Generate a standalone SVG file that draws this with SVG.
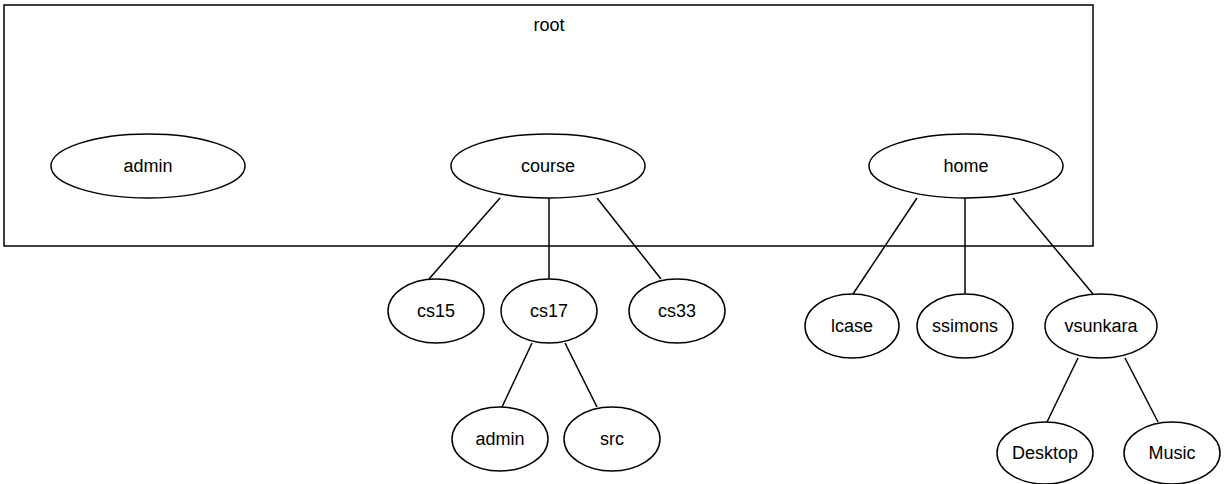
<svg xmlns="http://www.w3.org/2000/svg" width="1225" height="484" viewBox="0 0 1225 484">
  <style>
    .box { fill: #ffffff; stroke: #000000; stroke-width: 1.5; }
    .node ellipse { fill: #ffffff; stroke: #000000; stroke-width: 1.5; }
    .node text, .label { font-family: "Liberation Sans", Arial, sans-serif; font-size: 18px; fill: #000000; text-anchor: middle; dominant-baseline: central; }
    .edges line { stroke: #000000; stroke-width: 1.5; }
  </style>
  <rect width="1225" height="484" fill="#ffffff"/>

  <!-- container for the top-level directory -->
  <g id="root">
    <rect class="box" x="4" y="5" width="1089" height="241"/>
    <text class="label" x="549" y="25">root</text>
  </g>

  <!-- connectors -->
  <g class="edges" id="edges">
    <line x1="500" y1="198" x2="429" y2="279"/>
    <line x1="549" y1="198" x2="549" y2="279"/>
    <line x1="597" y1="198" x2="661" y2="279"/>
    <line x1="532" y1="343" x2="502" y2="407"/>
    <line x1="565" y1="343" x2="597" y2="407"/>
    <line x1="917" y1="198" x2="853" y2="294"/>
    <line x1="965" y1="198" x2="965" y2="294"/>
    <line x1="1013" y1="198" x2="1093" y2="294"/>
    <line x1="1078" y1="358" x2="1047" y2="422"/>
    <line x1="1125" y1="358" x2="1158" y2="422"/>
  </g>

  <g class="node" id="admin">
    <ellipse cx="148" cy="166" rx="97" ry="32"/>
    <text x="148" y="166">admin</text>
  </g>
  <g class="node" id="course">
    <ellipse cx="548" cy="166" rx="97" ry="32"/>
    <text x="548" y="166">course</text>
  </g>
  <g class="node" id="home">
    <ellipse cx="966" cy="166" rx="97" ry="32"/>
    <text x="966" y="166">home</text>
  </g>

  <g class="node" id="cs15">
    <ellipse cx="436" cy="311" rx="48" ry="32"/>
    <text x="436" y="311">cs15</text>
  </g>
  <g class="node" id="cs17">
    <ellipse cx="549" cy="311" rx="48" ry="32"/>
    <text x="549" y="311">cs17</text>
  </g>
  <g class="node" id="cs33">
    <ellipse cx="677" cy="311" rx="48" ry="32"/>
    <text x="677" y="311">cs33</text>
  </g>
  <g class="node" id="cs17-admin">
    <ellipse cx="500" cy="439" rx="48" ry="32"/>
    <text x="500" y="439">admin</text>
  </g>
  <g class="node" id="src">
    <ellipse cx="612" cy="439" rx="48" ry="32"/>
    <text x="612" y="439">src</text>
  </g>

  <g class="node" id="lcase">
    <ellipse cx="852" cy="326" rx="47" ry="32"/>
    <text x="852" y="326">lcase</text>
  </g>
  <g class="node" id="ssimons">
    <ellipse cx="965" cy="326" rx="48" ry="32"/>
    <text x="965" y="326">ssimons</text>
  </g>
  <g class="node" id="vsunkara">
    <ellipse cx="1101" cy="326" rx="56" ry="32"/>
    <text x="1101" y="326">vsunkara</text>
  </g>
  <g class="node" id="Desktop">
    <ellipse cx="1045" cy="453" rx="48" ry="31"/>
    <text x="1045" y="453">Desktop</text>
  </g>
  <g class="node" id="Music">
    <ellipse cx="1172" cy="453" rx="48" ry="31"/>
    <text x="1172" y="453">Music</text>
  </g>
</svg>
